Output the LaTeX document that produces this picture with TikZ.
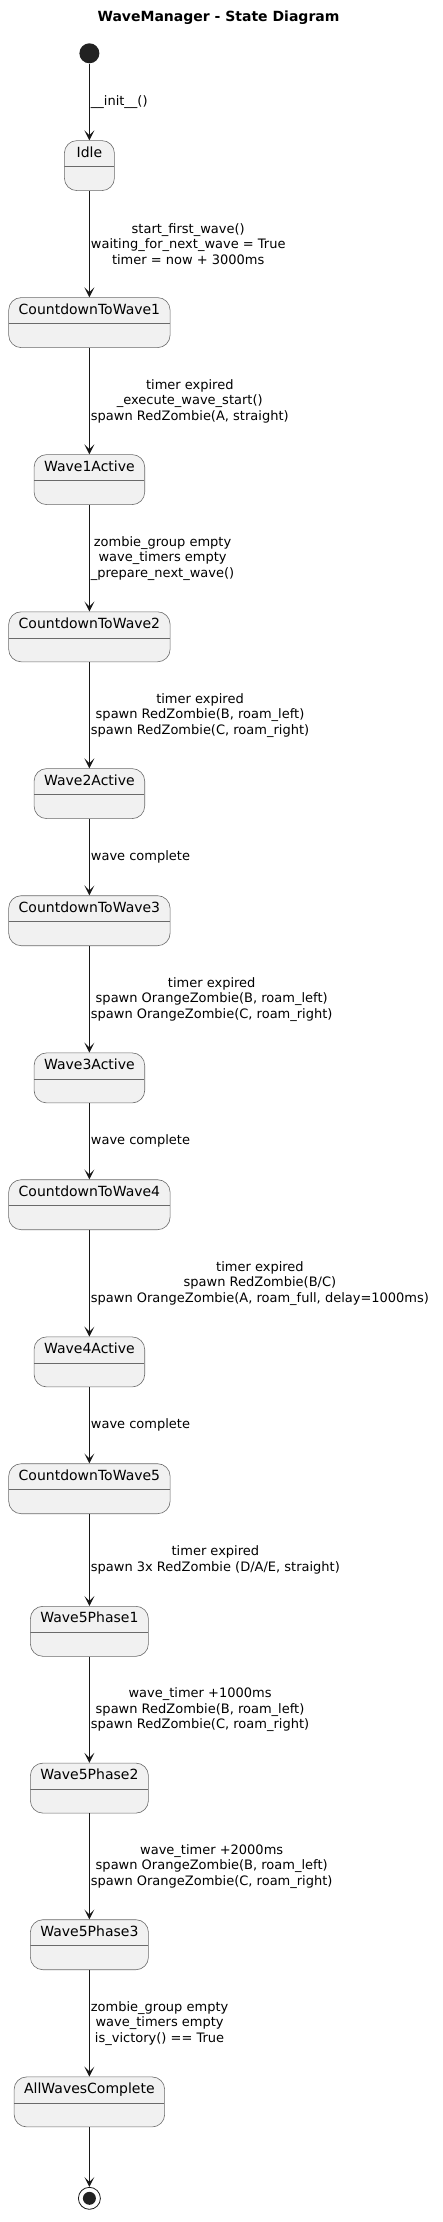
\documentclass[tikz,border=0pt]{standalone}
\usepackage{fontspec}
\setmainfont{DejaVu Sans}
\usetikzlibrary{arrows.meta}
\definecolor{statefill}{HTML}{F1F1F1}
\definecolor{stateline}{HTML}{6A6A6A}
\definecolor{darkink}{HTML}{181818}
\definecolor{dotfill}{HTML}{222222}

\tikzset{
  state/.style={draw=stateline, line width=0.6pt, fill=statefill, rounded corners=12.5pt,
    anchor=north, inner xsep=10pt, inner ysep=6.5pt, text height=10pt, text depth=27pt,
    minimum width=50pt, font=\fontsize{14}{16}\selectfont,
    path picture={\draw[stateline, line width=0.6pt]
      ([yshift=-26pt]path picture bounding box.north west) --
      ([yshift=-26pt]path picture bounding box.north east);}},
  trans/.style={draw=darkink, line width=1pt, -{Stealth[length=10pt, width=10pt, inset=5pt]}},
  lbl/.style={midway, right, inner sep=0pt, xshift=1pt, align=center,
    font=\fontsize{13}{15.4}\selectfont}
}

\begin{document}
\begin{tikzpicture}[x=1pt, y=-1pt]
  \useasboundingbox (0,0) rectangle (443,2222);
  \node (title) at (218.5,18) {\bfseries\fontsize{14}{16}\selectfont WaveManager - State Diagram};

  % states
  \node[circle, fill=dotfill, minimum size=20pt, inner sep=0pt] (start) at (89.4,53.3) {};
  \node[state] (idle) at (89.4,140.3) {Idle};
  \node[state] (cdwave1) at (89.4,297.3) {CountdownToWave1};
  \node[state] (wave1act) at (89.4,454.3) {Wave1Active};
  \node[state] (cdwave2) at (89.4,611.5) {CountdownToWave2};
  \node[state] (wave2act) at (89.4,768.3) {Wave2Active};
  \node[state] (cdwave3) at (89.4,895.4) {CountdownToWave3};
  \node[state] (wave3act) at (89.4,1052.6) {Wave3Active};
  \node[state] (cdwave4) at (89.4,1179.4) {CountdownToWave4};
  \node[state] (wave4act) at (89.4,1336.6) {Wave4Active};
  \node[state] (cdwave5) at (89.4,1463.4) {CountdownToWave5};
  \node[state] (w5phase1) at (89.4,1606) {Wave5Phase1};
  \node[state] (w5phase2) at (89.4,1762.8) {Wave5Phase2};
  \node[state] (w5phase3) at (89.4,1919.4) {Wave5Phase3};
  \node[state] (allwaves) at (89.4,2076.6) {AllWavesComplete};
  \node[circle, draw=darkink, line width=0.8pt, minimum size=22pt, inner sep=0pt] (stop) at (89.4,2198.3) {};
  \fill[dotfill] (stop.center) circle (6.5pt);

  % transitions
  \draw[trans] (start) -- (idle.north) node[lbl] (t0) {\_\_init\_\_()};
  \draw[trans] (idle.south) -- (cdwave1.north) node[lbl] (t1) {start\_first\_wave()\\waiting\_for\_next\_wave = True\\timer = now + 3000ms};
  \draw[trans] (cdwave1.south) -- (wave1act.north) node[lbl] (t2) {timer expired\\\_execute\_wave\_start()\\spawn RedZombie(A, straight)};
  \draw[trans] (wave1act.south) -- (cdwave2.north) node[lbl] (t3) {zombie\_group empty\\wave\_timers empty\\\_prepare\_next\_wave()};
  \draw[trans] (cdwave2.south) -- (wave2act.north) node[lbl] (t4) {timer expired\\spawn RedZombie(B, roam\_left)\\spawn RedZombie(C, roam\_right)};
  \draw[trans] (wave2act.south) -- (cdwave3.north) node[lbl] (t5) {wave complete};
  \draw[trans] (cdwave3.south) -- (wave3act.north) node[lbl] (t6) {timer expired\\spawn OrangeZombie(B, roam\_left)\\spawn OrangeZombie(C, roam\_right)};
  \draw[trans] (wave3act.south) -- (cdwave4.north) node[lbl] (t7) {wave complete};
  \draw[trans] (cdwave4.south) -- (wave4act.north) node[lbl] (t8) {timer expired\\spawn RedZombie(B/C)\\spawn OrangeZombie(A, roam\_full, delay=1000ms)};
  \draw[trans] (wave4act.south) -- (cdwave5.north) node[lbl] (t9) {wave complete};
  \draw[trans] (cdwave5.south) -- (w5phase1.north) node[lbl] (t10) {timer expired\\spawn 3x RedZombie (D/A/E, straight)};
  \draw[trans] (w5phase1.south) -- (w5phase2.north) node[lbl] (t11) {wave\_timer +1000ms\\spawn RedZombie(B, roam\_left)\\spawn RedZombie(C, roam\_right)};
  \draw[trans] (w5phase2.south) -- (w5phase3.north) node[lbl] (t12) {wave\_timer +2000ms\\spawn OrangeZombie(B, roam\_left)\\spawn OrangeZombie(C, roam\_right)};
  \draw[trans] (w5phase3.south) -- (allwaves.north) node[lbl] (t13) {zombie\_group empty\\wave\_timers empty\\is\_victory() == True};
  \draw[trans] (allwaves.south) -- (stop);
\end{tikzpicture}
\end{document}
